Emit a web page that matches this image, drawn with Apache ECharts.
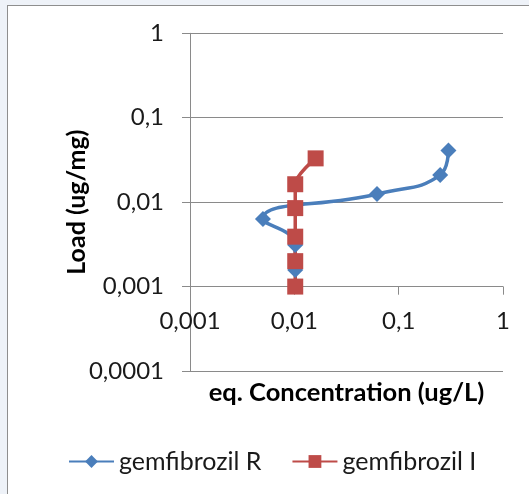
<!DOCTYPE html>
<html>
<head>
<meta charset="utf-8">
<script src="https://cdn.jsdelivr.net/npm/echarts@6/dist/echarts.min.js"></script>
<style>
  html, body { margin: 0; padding: 0; width: 529px; height: 494px; overflow: hidden; background: #eef2f8; }
  #frame { position: absolute; left: 7px; top: 5px; width: 600px; height: 600px; background: #fff; border: 1px solid #8e8e8e; }
  #chart { position: absolute; left: 0; top: 0; width: 529px; height: 494px; }
</style>
</head>
<body>
<div id="frame"></div>
<div id="chart"></div>
<script>
// Series: [eq. concentration (ug/L), load (ug/mg)]
const seriesNames = ['gemfibrozil R', 'gemfibrozil I'];
const gemfibrozilR = [
  [0.0102, 0.00157],
  [0.0102, 0.0031],
  [0.0050, 0.0063],
  [0.062, 0.0125],
  [0.25, 0.021],
  [0.30, 0.041]
];
const gemfibrozilI = [
  [0.0102, 0.0010],
  [0.0102, 0.0020],
  [0.0102, 0.0039],
  [0.0102, 0.0085],
  [0.0102, 0.0163],
  [0.016, 0.033]
];
// Decade tick labels (comma as decimal separator)
const xTickLabels = ['0,001', '0,01', '0,1', '1'];      // 1e-3 .. 1e0
const yTickLabels = ['0,0001', '0,001', '0,01', '0,1', '1']; // 1e-4 .. 1e0

const colors = ['#4a7ebb', '#be4b48'];
const FONT = 'Lato';
const gridCol = '#8a8a8a';

function labelFor(list, minExp) {
  return v => {
    const e = Math.round(Math.log10(v));
    return list[e - minExp] ?? '';
  };
}

const chart = echarts.init(document.getElementById('chart'), null, { renderer: 'canvas' });
chart.setOption({
  animation: false,
  backgroundColor: 'transparent',
  color: colors,
  grid: { left: 190, right: 26, top: 33.3, bottom: 123, outerBoundsMode: 'none' },
  xAxis: {
    type: 'log', logBase: 10, min: 0.001, max: 1,
    offset: -84.3,
    name: 'eq. Concentration (ug/L)',
    nameLocation: 'middle',
    nameGap: 93,
    nameMoveOverlap: false,
    nameTextStyle: { fontFamily: FONT, fontWeight: 'bold', fontSize: 25.5, color: '#000' },
    axisLine: { show: true, lineStyle: { color: gridCol, width: 1 } },
    axisTick: { show: true, inside: false, length: 8, lineStyle: { color: gridCol } },
    axisLabel: { margin: 23, fontFamily: FONT, fontSize: 24, color: '#1a1a1a', formatter: labelFor(xTickLabels, -3) },
    splitLine: { show: false },
    minorTick: { show: false }
  },
  yAxis: {
    type: 'log', logBase: 10, min: 0.0001, max: 1,
    name: 'Load (ug/mg)',
    nameLocation: 'middle',
    nameGap: 101,
    nameMoveOverlap: false,
    nameTextStyle: { fontFamily: FONT, fontWeight: 'bold', fontSize: 25, color: '#000' },
    axisLine: { show: true, lineStyle: { color: gridCol, width: 1 } },
    axisTick: { show: true, inside: false, length: 8, lineStyle: { color: gridCol } },
    axisLabel: { margin: 26, fontFamily: FONT, fontSize: 24, color: '#1a1a1a', formatter: labelFor(yTickLabels, -4) },
    splitLine: { show: true, lineStyle: { color: gridCol, width: 1 } }
  },
  legend: {
    left: 68, top: 449, padding: 0,
    itemWidth: 45, itemHeight: 16, itemGap: 30,
    textStyle: { fontFamily: FONT, fontSize: 25, color: '#1a1a1a' },
    data: seriesNames
  },
  series: [
    {
      name: seriesNames[0], type: 'line', data: gemfibrozilR,
      smooth: 0.5, symbol: 'diamond', symbolSize: 16,
      lineStyle: { width: 3.5, color: colors[0] },
      itemStyle: { color: colors[0] }
    },
    {
      name: seriesNames[1], type: 'line', data: gemfibrozilI,
      smooth: 0.3, symbol: 'rect', symbolSize: 16,
      lineStyle: { width: 3.5, color: colors[1] },
      itemStyle: { color: colors[1] }
    }
  ]
});
</script>
</body>
</html>
